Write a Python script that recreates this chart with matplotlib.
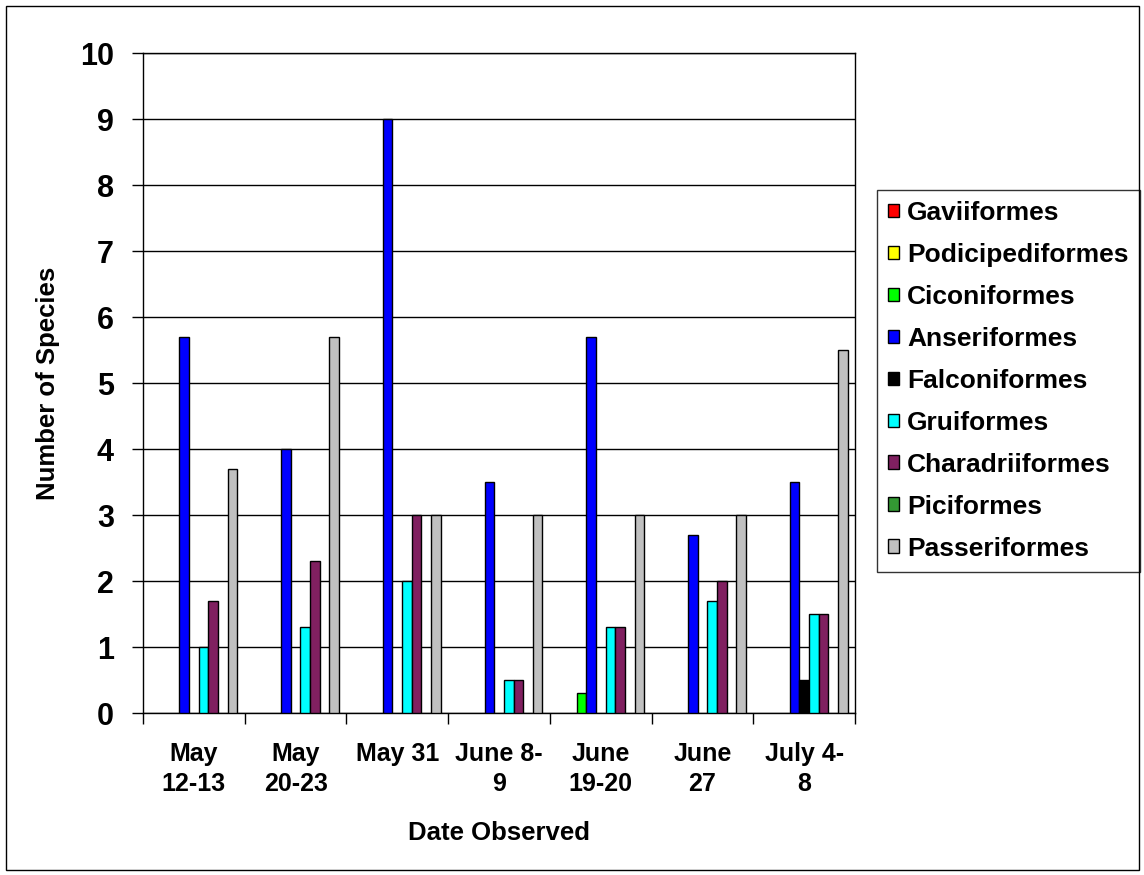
import numpy as np
import matplotlib.pyplot as plt
from matplotlib.patches import Rectangle, Patch

# --- datos ---
fechas = ["May\n12-13", "May\n20-23", "May 31", "June 8-\n9", "June\n19-20", "June\n27", "July 4-\n8"]
ordenes = ["Gaviiformes", "Podicipediformes", "Ciconiformes", "Anseriformes", "Falconiformes",
           "Gruiformes", "Charadriiformes", "Piciformes", "Passeriformes"]
colores = ["#ff0000", "#ffff00", "#00ff00", "#0000ff", "#000000",
           "#00ffff", "#802060", "#339933", "#c0c0c0"]

gaviiformes = [0, 0, 0, 0, 0, 0, 0]
podicipediformes = [0, 0, 0, 0, 0, 0, 0]
ciconiformes = [0, 0, 0, 0, 0.3, 0, 0]
anseriformes = [5.7, 4.0, 9.0, 3.5, 5.7, 2.7, 3.5]
falconiformes = [0, 0, 0, 0, 0, 0, 0.5]
gruiformes = [1.0, 1.3, 2.0, 0.5, 1.3, 1.7, 1.5]
charadriiformes = [1.7, 2.3, 3.0, 0.5, 1.3, 2.0, 1.5]
piciformes = [0, 0, 0, 0, 0, 0, 0]
passeriformes = [3.7, 5.7, 3.0, 3.0, 3.0, 3.0, 5.5]

series = [gaviiformes, podicipediformes, ciconiformes, anseriformes, falconiformes,
          gruiformes, charadriiformes, piciformes, passeriformes]

plt.rcParams['font.family'] = ['Liberation Sans', 'DejaVu Sans']
plt.rcParams['font.weight'] = 'bold'

fig = plt.figure(figsize=(11.44, 8.75), dpi=100)
ax = fig.add_axes([0.125, 0.1851, 0.6224, 0.7543])

x = np.arange(len(fechas))
ancho = 0.095
for i, (vals, col) in enumerate(zip(series, colores)):
    # las barras en cero no se dibujan
    ax.bar(x + (i - 4) * ancho, vals, ancho, color=col, edgecolor='black',
           linewidth=[1 if v > 0 else 0 for v in vals], zorder=3)

ax.set_xlim(-0.5, 6.5)
ax.set_ylim(0, 10)
ax.set_yticks(range(0, 11))
ax.yaxis.grid(True, color='black', linewidth=1, zorder=0)
ax.tick_params(axis='y', labelsize=22, length=8, width=1, pad=13)
ax.set_xticks(x)
ax.set_xticklabels(fechas, fontsize=18, linespacing=1.3)
ax.set_xticks(np.arange(-0.5, 7, 1), minor=True)
ax.tick_params(axis='x', which='major', length=0, pad=21)
ax.tick_params(axis='x', which='minor', length=8, width=1)
for s in ax.spines.values():
    s.set_linewidth(1)

ax.set_xlabel("Date Observed", fontsize=18.5, fontweight='bold', labelpad=18)
ax.set_ylabel("Number of Species", fontsize=18.5, fontweight='bold', labelpad=14)

handles = [Patch(facecolor=c, edgecolor='black', linewidth=1) for c in colores]
leg = ax.legend(handles, ordenes, loc='upper left',
                bbox_to_anchor=(877 / 1144, 1 - 190 / 875),
                bbox_transform=fig.transFigure, fontsize=19, frameon=True,
                fancybox=False, edgecolor='black', handlelength=0.42, handleheight=0.42,
                handletextpad=0.3, labelspacing=0.68, borderaxespad=0, borderpad=0.42)
leg.get_frame().set_linewidth(1)

# marco exterior
fig.patches.append(Rectangle((6 / 1144, 5 / 875), 1133 / 1144, 864 / 875,
                             transform=fig.transFigure, fill=False,
                             edgecolor='black', linewidth=1))

fig.savefig("out.png", dpi=100)
